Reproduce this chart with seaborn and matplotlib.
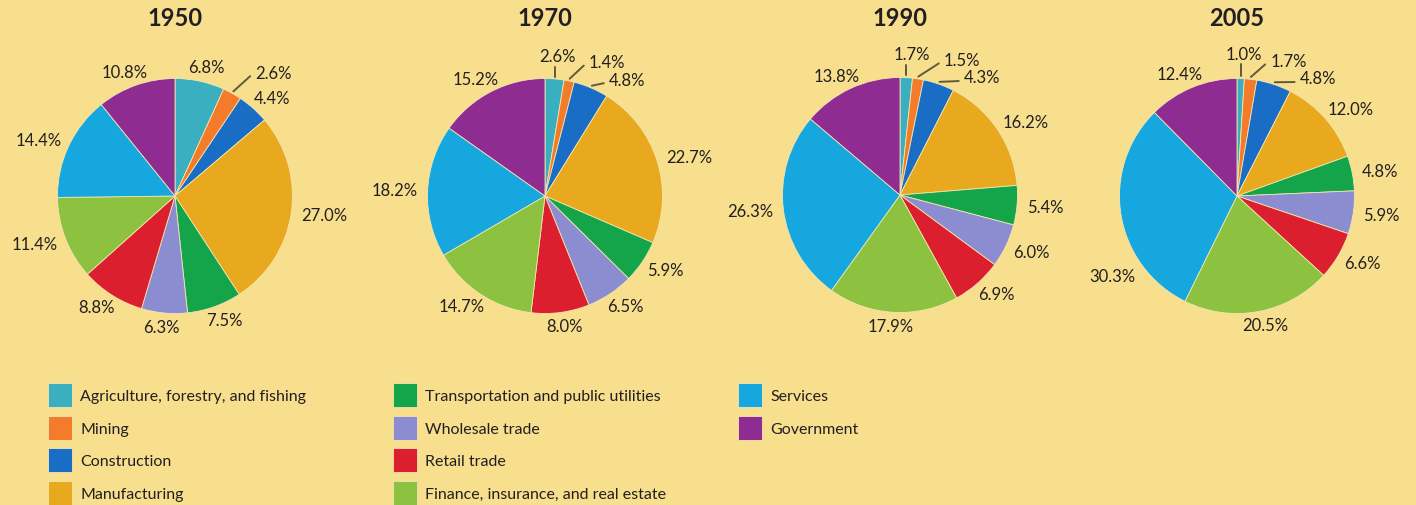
import numpy as np
import matplotlib
matplotlib.use('Agg')
import matplotlib.pyplot as plt
import seaborn as sns
from matplotlib import font_manager

sns.set_theme(style='white')
plt.rcParams['font.family'] = ['Lato', 'DejaVu Sans']

# data
years = ['1950', '1970', '1990', '2005']
sectors = ['Agriculture, forestry, and fishing', 'Mining', 'Construction', 'Manufacturing',
           'Transportation and public utilities', 'Wholesale trade', 'Retail trade',
           'Finance, insurance, and real estate', 'Services', 'Government']
share_1950 = [6.8, 2.6, 4.4, 27.0, 7.5, 6.3, 8.8, 11.4, 14.4, 10.8]
share_1970 = [2.6, 1.4, 4.8, 22.7, 5.9, 6.5, 8.0, 14.7, 18.2, 15.2]
share_1990 = [1.7, 1.5, 4.3, 16.2, 5.4, 6.0, 6.9, 17.9, 26.3, 13.8]
share_2005 = [1.0, 1.7, 4.8, 12.0, 4.8, 5.9, 6.6, 20.5, 30.3, 12.4]
shares = [share_1950, share_1970, share_1990, share_2005]

colors = ['#3AAFC0', '#F47B29', '#1A6DC4', '#E8A91E', '#14A44A',
          '#8B8DD0', '#DC1F2E', '#8CC23F', '#16A7DF', '#8E2C92']
bg = '#F7DF8E'
text_c = '#231F20'
line_c = '#5F5A3A'

# label spots moved by hand (in pie radii), and which of them get a leader line
moved = [
    {1: (0.84, 1.05)},
    {0: (0.11, 1.19), 1: (0.53, 1.14), 2: (0.70, 0.99)},
    {0: (0.10, 1.20), 1: (0.53, 1.15), 2: (0.70, 1.00)},
    {0: (0.06, 1.21), 1: (0.44, 1.15), 2: (0.69, 1.00), 8: (-1.06, -0.68)},
]
leaders = [{1}, {0, 1, 2}, {0, 1, 2}, {0, 1, 2}]

W, H = 1416, 506
centers = [(175, 197), (545, 197), (900, 196), (1237, 197)]
R = 117.5
S = 320
lim = S / 2 / R

fig = plt.figure(figsize=(W / 100, H / 100), dpi=100, facecolor=bg)

wedges0 = None
for k, yr in enumerate(years):
    cx_px, cy_px = centers[k]
    ax = fig.add_axes([(cx_px - S / 2) / W, 1 - (cy_px + S / 2) / H, S / W, S / H])
    ax.set_facecolor('none')
    wedges, _ = ax.pie(shares[k], colors=colors, startangle=90, counterclock=False,
                       wedgeprops=dict(linewidth=0.6, edgecolor='#F3E6B0'))
    if wedges0 is None:
        wedges0 = wedges
    ax.set_xlim(-lim, lim)
    ax.set_ylim(-lim, lim)
    ax.set_aspect('equal')
    ax.axis('off')
    ax.text(0, (cy_px - 19) / R, yr, ha='center', va='center', fontsize=17,
            fontweight='bold', color=text_c)

    for i, (w, v) in enumerate(zip(wedges, shares[k])):
        s = f'{v:.1f}%'
        ang = np.deg2rad((w.theta1 + w.theta2) / 2)
        dx, dy = np.cos(ang), np.sin(ang)
        hw, hh = 0.045 * len(s), 0.06
        if i in moved[k]:
            tx, ty = moved[k][i]
        else:
            tx = 1.06 * dx + dx * hw
            ty = 1.06 * dy + dy * hh
        if i in leaders[k]:
            sx, sy = 1.02 * dx, 1.02 * dy
            if tx - hw > sx + 0.03:
                ex, ey = tx - hw - 0.02, ty - 0.03
            else:
                ex, ey = sx, ty - hh - 0.03
            ax.plot([sx, ex], [sy, ey], color=line_c, lw=1.4, solid_capstyle='round')
        ax.text(tx, ty, s, ha='center', va='center', fontsize=12, color=text_c)

# legend font: a narrow face if one is there
names = {f.name for f in font_manager.fontManager.ttflist}
leg_family = ['Liberation Sans Narrow', 'Lato'] if 'Liberation Sans Narrow' in names else ['Lato']
fs = 11.5
fpx = fs * 100 / 72
groups = [range(0, 4), range(4, 8), range(8, 10)]
xs = [48, 393, 738]
for g, x0 in zip(groups, xs):
    leg = fig.legend([wedges0[i] for i in g], [sectors[i] for i in g],
                     loc='upper left', bbox_to_anchor=(x0 / W, 1 - 384 / H),
                     frameon=False, borderpad=0, borderaxespad=0,
                     handlelength=24 / fpx, handleheight=31 / fpx,
                     handletextpad=8 / fpx, labelspacing=8.5 / fpx,
                     prop=dict(family=leg_family, size=fs))
    for t in leg.get_texts():
        t.set_color(text_c)

fig.savefig('out.png', dpi=100, facecolor=bg)
